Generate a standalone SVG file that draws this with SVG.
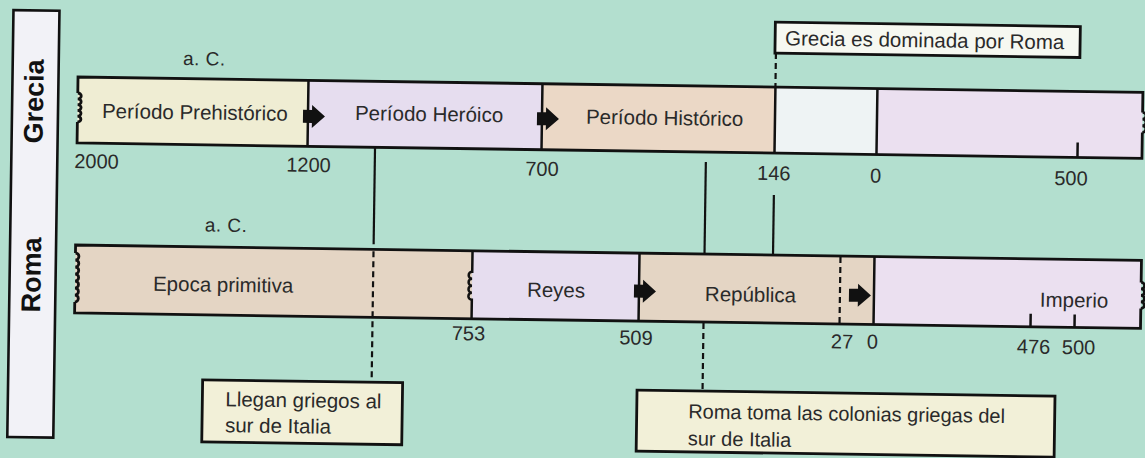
<svg xmlns="http://www.w3.org/2000/svg" xmlns:xlink="http://www.w3.org/1999/xlink" width="1145" height="458" viewBox="0 0 1145 458">
<style>
.t{font-family:"Liberation Sans",Arial,sans-serif;font-size:20.5px;fill:#2a2a2a}
.n{font-family:"Liberation Sans",Arial,sans-serif;font-size:20px;fill:#2a2a2a}
.h{font-family:"Liberation Sans",Arial,sans-serif;font-size:27px;font-weight:bold;fill:#111}
.out{fill:none;stroke:#111;stroke-width:2.8;stroke-linejoin:miter}
.dv{stroke:#111;stroke-width:2.5;fill:none}
.cn{stroke:#111;stroke-width:2.2;fill:none}
.ds{stroke:#111;stroke-width:2.2;stroke-dasharray:6 4;fill:none}
.bx{stroke:#111;stroke-width:2.8}
.cream{fill:#efedd3}.lav{fill:#e6ddef}.peach{fill:#ebd8c6}.tan{fill:#e4d5c4}.wht{fill:#eef3f4}.lav2{fill:#ebe0f0}
</style>
<defs>
<path id="arr" d="M-5,-6.5 H4 V-11.5 L17,0 L4,11.5 V6.5 H-5 Z" fill="#111"/>
</defs>
<rect width="1145" height="458" fill="#b3dfcf"/>
<g transform="rotate(0.83 78 78)">
<g id="strip">
<rect x="12.5" y="11" width="46" height="427" fill="#f2f2f7" stroke="#111" stroke-width="2.6"/>
<text class="h" transform="translate(43.5,102) rotate(-90)" text-anchor="middle">Grecia</text>
<text class="h" transform="translate(43.5,275.5) rotate(-90)" text-anchor="middle">Roma</text>
</g>
<g id="grecia">
<rect class="cream" x="78" y="77" width="230.5" height="66"/>
<rect class="lav" x="308.5" y="77" width="234" height="66"/>
<rect class="peach" x="542.5" y="77" width="233" height="66"/>
<rect class="wht" x="775.5" y="77" width="102" height="66"/>
<rect class="lav2" x="877.5" y="77" width="265.5" height="66"/>
<path class="out" d="M78,93 V77 H1143 V97 M1143,117 V143 H78 V122"/>
<path class="out" d="M78,93 a3.5,2.9 0 0 1 0,5.8 a3.5,2.9 0 0 1 0,5.8 a3.5,2.9 0 0 1 0,5.8 a3.5,2.9 0 0 1 0,5.8 a3.5,2.9 0 0 1 0,5.8"/>
<path class="out" d="M1143,97 a3.5,3.33 0 0 1 0,6.67 a3.5,3.33 0 0 1 0,6.67 a3.5,3.33 0 0 1 0,6.66"/>
<path class="dv" d="M308.5,77 V143 M542.5,77 V143 M775.5,77 V143 M877.5,77 V143 M1078.5,143 V128"/>
<use xlink:href="#arr" href="#arr" x="308.5" y="113"/>
<use xlink:href="#arr" href="#arr" x="542.5" y="112"/>
<text class="t" x="102.5" y="117.7">Período Prehistórico</text>
<text class="t" x="355.5" y="116">Período Heróico</text>
<text class="t" x="586.5" y="116.4">Período Histórico</text>
<text class="t" x="182.8" y="63.5" textLength="42" lengthAdjust="spacing" style="font-size:19px">a. C.</text>
<text class="n" x="75.5" y="168">2000</text>
<text class="n" x="287.5" y="168.4">1200</text>
<text class="n" x="526.5" y="169">700</text>
<text class="n" x="758.5" y="170">146</text>
<text class="n" x="871.5" y="171">0</text>
<text class="n" x="1055.6" y="170.8">500</text>
</g>
<g id="roma">
<rect class="tan" x="78" y="245" width="397" height="68"/>
<rect class="lav" x="475" y="245" width="167" height="68"/>
<rect class="tan" x="642" y="245" width="235" height="68"/>
<rect class="lav2" x="877" y="245" width="267" height="68"/>
<path class="out" d="M78,253 V245 H1144 V267 M1144,293 V313 H78 V302"/>
<path class="out" d="M78,253 a3.5,3.5 0 0 1 0,7 a3.5,3.5 0 0 1 0,7 a3.5,3.5 0 0 1 0,7 a3.5,3.5 0 0 1 0,7 a3.5,3.5 0 0 1 0,7 a3.5,3.5 0 0 1 0,7 a3.5,3.5 0 0 1 0,7"/>
<path class="out" d="M1144,267 a3.5,3.25 0 0 1 0,6.5 a3.5,3.25 0 0 1 0,6.5 a3.5,3.25 0 0 1 0,6.5 a3.5,3.25 0 0 1 0,6.5"/>
<path class="dv" d="M475,245 V266 a3.5,3.5 0 0 0 0,7 a3.5,3.5 0 0 0 0,7 a3.5,3.5 0 0 0 0,7 a3.5,3.5 0 0 0 0,7 V313"/>
<path class="dv" d="M642,245 V313 M877,245 V313 M1034,313 V300 M1078,313 V300"/>
<path class="ds" d="M843,246 V313"/>
<use xlink:href="#arr" href="#arr" x="642" y="283"/>
<use xlink:href="#arr" href="#arr" x="857" y="284"/>
<text class="t" x="156" y="289.6">Epoca primitiva</text>
<text class="t" x="530" y="290.2">Reyes</text>
<text class="t" x="708" y="291.9">República</text>
<text class="t" x="1043" y="292.7">Imperio</text>
<text class="t" x="207" y="229.6" textLength="42" lengthAdjust="spacing" style="font-size:19px">a. C.</text>
<text class="n" x="455.5" y="334.6">753</text>
<text class="n" x="623" y="336.5">509</text>
<text class="n" x="834.6" y="337.4">27</text>
<text class="n" x="870.6" y="337">0</text>
<text class="n" x="1020.7" y="339.7">476</text>
<text class="n" x="1065.7" y="339.7">500</text>
</g>
<g id="connectors">
<path class="cn" d="M376,143 V240"/>
<path class="ds" d="M376,247 V378"/>
<path class="cn" d="M707,153 V245"/>
<path class="ds" d="M707,314 V382"/>
<path class="cn" d="M775.5,185 V245"/>
<path class="ds" d="M775.5,43 V77"/>
</g>
<g id="box-dominada">
<rect class="bx" x="774.5" y="12" width="305" height="31" fill="#f6f8f1"/>
<text class="t" x="784.5" y="35">Grecia es dominada por Roma</text>
</g>
<g id="box-llegan">
<rect class="bx" x="207" y="378" width="200" height="62" fill="#f2f0d8"/>
<text class="t" x="230" y="404">Llegan griegos al</text>
<text class="t" x="230" y="430">sur de Italia</text>
</g>
<g id="box-roma-toma">
<rect class="bx" x="641.5" y="382" width="418" height="61" fill="#f2f0d8"/>
<text class="t" x="693" y="409.5" style="font-size:20px">Roma toma las colonias griegas del</text>
<text class="t" x="693" y="436.5" style="font-size:20px">sur de Italia</text>
</g>
</g>
</svg>
